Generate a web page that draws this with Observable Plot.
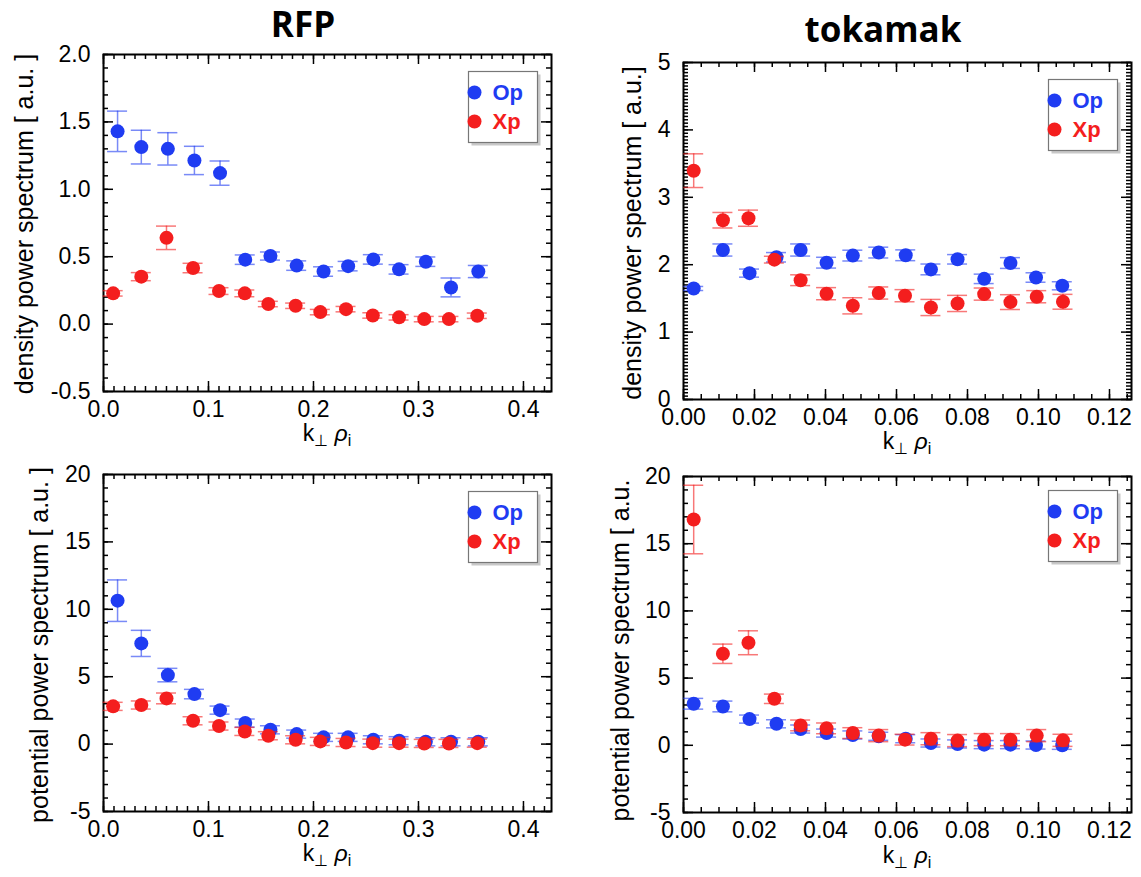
<!DOCTYPE html>
<html><head><meta charset="utf-8">
<script src="https://cdn.jsdelivr.net/npm/d3@7"></script>
<script src="https://cdn.jsdelivr.net/npm/@observablehq/plot@0.6"></script>
<style>
body{margin:0;background:#fff;}
#wrap{position:relative;width:1141px;height:877px;overflow:hidden;background:#fff;}
#wrap svg{position:absolute;}
</style></head><body><div id="wrap"></div>
<script>
const opBlue = "#1f3cf2", xpRed = "#f41e1e";
const seriesNames = ["Op", "Xp"];
const titles = ["RFP", "tokamak"];

// ---- RFP (k_perp rho_i) ----
const rfpOpX = [0.0134,0.036,0.0613,0.0866,0.111,0.135,0.159,0.184,0.2096,0.233,0.257,0.2815,0.307,0.331,0.357];
const rfpXpX = [0.0092,0.036,0.06,0.0853,0.11,0.1346,0.157,0.183,0.2065,0.231,0.2565,0.2815,0.3055,0.329,0.356];
// RFP density
const rfpDenOp  = [1.43,1.313,1.30,1.214,1.12,0.478,0.505,0.434,0.39,0.43,0.48,0.406,0.463,0.272,0.39];
const rfpDenOpE = [0.15,0.125,0.12,0.105,0.09,0.035,0.03,0.035,0.035,0.035,0.035,0.035,0.035,0.07,0.045];
const rfpDenXp  = [0.228,0.352,0.64,0.416,0.245,0.228,0.149,0.136,0.089,0.111,0.064,0.05,0.037,0.037,0.062];
const rfpDenXpE = [0.02,0.03,0.087,0.035,0.025,0.025,0.02,0.02,0.02,0.02,0.02,0.02,0.02,0.02,0.02];
// RFP potential
const rfpPotOp  = [10.64,7.47,5.12,3.71,2.52,1.56,1.06,0.74,0.5,0.5,0.32,0.25,0.17,0.17,0.17];
const rfpPotOpE = [1.54,0.97,0.5,0.35,0.3,0.3,0.3,0.3,0.3,0.3,0.3,0.3,0.3,0.3,0.3];
const rfpPotXp  = [2.8,2.9,3.39,1.73,1.34,0.94,0.62,0.32,0.2,0.12,0.07,0.07,0.05,0.05,0.07];
const rfpPotXpE = [0.3,0.3,0.4,0.3,0.3,0.3,0.3,0.3,0.3,0.3,0.3,0.3,0.3,0.3,0.3];

// ---- tokamak ----
const tokOpX = [0.00287,0.0111,0.0186,0.0262,0.033,0.0403,0.0477,0.055,0.0626,0.0697,0.0772,0.0847,0.0921,0.0993,0.1067];
const tokXpX = [0.00287,0.0111,0.0183,0.0256,0.033,0.0403,0.0477,0.055,0.0624,0.0697,0.0772,0.0847,0.0921,0.0995,0.1069];
// tokamak density
const tokDenOp  = [1.647,2.218,1.875,2.11,2.218,2.03,2.135,2.18,2.14,1.93,2.08,1.79,2.025,1.81,1.687];
const tokDenOpE = [0.03,0.09,0.06,0.07,0.09,0.08,0.08,0.08,0.08,0.08,0.07,0.07,0.08,0.07,0.06];
const tokDenXp  = [3.395,2.66,2.69,2.075,1.77,1.57,1.39,1.58,1.54,1.365,1.425,1.564,1.445,1.525,1.45];
const tokDenXpE = [0.25,0.115,0.12,0.05,0.08,0.09,0.12,0.09,0.09,0.12,0.12,0.09,0.11,0.09,0.11];
// tokamak potential
const tokPotOp  = [3.09,2.89,1.95,1.6,1.21,0.91,0.77,0.67,0.49,0.17,0.1,0.05,0.05,0.02,0.0];
const tokPotOpE = [0.4,0.4,0.3,0.3,0.3,0.3,0.3,0.3,0.3,0.3,0.3,0.3,0.3,0.3,0.3];
const tokPotXp  = [16.8,6.81,7.63,3.46,1.48,1.26,0.91,0.72,0.42,0.49,0.35,0.42,0.42,0.72,0.37];
const tokPotXpE = [2.55,0.72,0.89,0.35,0.4,0.4,0.4,0.45,0.4,0.45,0.45,0.45,0.45,0.45,0.45];

// ---- axes ----
const rfpXTicks = [0, 0.1, 0.2, 0.3, 0.4];
const rfpXLabels = ["0.0", "0.1", "0.2", "0.3", "0.4"];
const tokXTicks = [0, 0.02, 0.04, 0.06, 0.08, 0.10, 0.12];
const tokXLabels = ["0.00", "0.02", "0.04", "0.06", "0.08", "0.10", "0.12"];
const denRfpYTicks = [-0.5, 0, 0.5, 1.0, 1.5, 2.0];
const denRfpYLabels = ["-0.5", "0.0", "0.5", "1.0", "1.5", "2.0"];
const denTokYTicks = [0, 1, 2, 3, 4, 5];
const denTokYLabels = ["0", "1", "2", "3", "4", "5"];
const potYTicks = [-5, 0, 5, 10, 15, 20];
const potYLabels = ["-5", "0", "5", "10", "15", "20"];
const yLabelDen = ["density power spectrum [ a.u. ]", "density power spectrum [ a.u.]"];
const yLabelPot = ["potential power spectrum [ a.u. ]", "potential power spectrum [ a.u."];

const wrap = document.getElementById("wrap");

function minorTicks(domain, step) {
  const n = Math.floor((domain[1] - domain[0]) / step + 1e-6);
  return d3.range(n + 1).map(i => +(domain[0] + i * step).toFixed(6));
}

function panel(c) {
  const W = c.width - c.ml - c.mr, H = c.height - c.mt - c.mb;
  const op = c.opX.map((x, i) => ({x, y: c.opY[i], e: c.opE[i]}));
  const xp = c.xpX.map((x, i) => ({x, y: c.xpY[i], e: c.xpE[i]}));
  const capHalf = 10 * (c.xDomain[1] - c.xDomain[0]) / W;
  const xMinor = minorTicks(c.xDomain, c.xMinorStep);
  const yMinor = minorTicks(c.yDomain, c.yMinorStep);
  const tickStyle = {stroke: "black", strokeWidth: 1.5};
  const errMarks = (data, color) => [
    Plot.ruleX(data, {x: "x", y1: d => d.y - d.e, y2: d => d.y + d.e, stroke: color, strokeOpacity: 0.6, strokeWidth: 1.5}),
    Plot.ruleY(data, {y: d => d.y + d.e, x1: d => d.x - capHalf, x2: d => d.x + capHalf, stroke: color, strokeOpacity: 0.6, strokeWidth: 1.5}),
    Plot.ruleY(data, {y: d => d.y - d.e, x1: d => d.x - capHalf, x2: d => d.x + capHalf, stroke: color, strokeOpacity: 0.6, strokeWidth: 1.5}),
    Plot.dot(data, {x: "x", y: "y", r: 7, fill: color})
  ];
  const lt = c.legendTop;
  const svg = Plot.plot({
    width: c.width, height: c.height,
    marginLeft: c.ml, marginRight: c.mr, marginTop: c.mt, marginBottom: c.mb,
    style: {fontFamily: "'Liberation Sans', Arial, sans-serif", fontSize: "23px", background: "transparent", overflow: "visible"},
    x: {domain: c.xDomain},
    y: {domain: c.yDomain},
    marks: [
      // minor ticks
      Plot.ruleX(xMinor, {x: d => d, insetTop: H - 5, ...tickStyle}),
      Plot.ruleX(xMinor, {x: d => d, insetBottom: H - 5, ...tickStyle}),
      Plot.ruleY(yMinor, {y: d => d, insetRight: W - 5, ...tickStyle}),
      Plot.ruleY(yMinor, {y: d => d, insetLeft: W - 5, ...tickStyle}),
      // major ticks
      Plot.ruleX(c.xTicks, {x: d => d, insetTop: H - 10, ...tickStyle}),
      Plot.ruleX(c.xTicks, {x: d => d, insetBottom: H - 10, ...tickStyle}),
      Plot.ruleY(c.yTicks, {y: d => d, insetRight: W - 10, ...tickStyle}),
      Plot.ruleY(c.yTicks, {y: d => d, insetLeft: W - 10, ...tickStyle}),
      Plot.axisX({ticks: c.xTicks, tickSize: 0, tickPadding: 9, label: null, fontSize: 23,
        tickFormat: d => c.xLabels[c.xTicks.indexOf(d)]}),
      Plot.axisY({ticks: c.yTicks, tickSize: 0, tickPadding: 13, label: null, fontSize: 23,
        tickFormat: d => c.yLabels[c.yTicks.indexOf(d)]}),
      Plot.frame({stroke: "black", strokeWidth: 2}),
      // legend
      Plot.frame({insetLeft: W - 83 + 3, insetRight: 14 - 3, insetTop: lt + 3, insetBottom: H - lt - 71 - 3, fill: "#c8c8c8", stroke: "none"}),
      Plot.frame({insetLeft: W - 83, insetRight: 14, insetTop: lt, insetBottom: H - lt - 71, fill: "white", stroke: "#777", strokeWidth: 1.2}),
      ...errMarks(op, opBlue),
      ...errMarks(xp, xpRed),
      Plot.dot([0], {frameAnchor: "top-right", dx: -77, dy: lt + 21, r: 7, fill: opBlue}),
      Plot.dot([0], {frameAnchor: "top-right", dx: -77, dy: lt + 50, r: 7, fill: xpRed}),
      Plot.text([seriesNames[0]], {frameAnchor: "top-right", dx: -59, dy: lt + 21, text: d => d, textAnchor: "start", lineAnchor: "middle", fontSize: 22, fontWeight: "bold", fill: opBlue}),
      Plot.text([seriesNames[1]], {frameAnchor: "top-right", dx: -59, dy: lt + 50, text: d => d, textAnchor: "start", lineAnchor: "middle", fontSize: 22, fontWeight: "bold", fill: xpRed}),
      Plot.text([c.ylabel], {frameAnchor: "left", text: d => d, rotate: -90, dx: c.ylDx, dy: c.ylDy, fontSize: 25, textAnchor: "middle", lineAnchor: "middle"})
    ]
  });
  svg.style.left = c.left + "px";
  svg.style.top = c.top + "px";
  const s = d3.select(svg);
  // x-axis label k_perp rho_i
  const t = s.append("text")
    .attr("x", c.ml + W / 2).attr("y", c.height - c.mb + c.xlOff)
    .attr("text-anchor", "middle").attr("font-size", 23)
    .attr("font-family", "'Liberation Sans', Arial, sans-serif");
  t.append("tspan").text("k");
  t.append("tspan").attr("dy", 5).attr("font-size", 16).text("\u22A5");
  t.append("tspan").attr("dy", -5).text(" ");
  t.append("tspan").attr("font-style", "italic").text("\u03C1");
  t.append("tspan").attr("dy", 5).attr("font-size", 16).text("i");
  if (c.title) {
    s.append("text").attr("x", c.titleX).attr("y", c.titleY)
      .attr("text-anchor", "middle").attr("font-size", 35).attr("font-weight", 700)
      .attr("font-family", "'Open Sans', sans-serif").text(c.title);
  }
  wrap.appendChild(svg);
}

panel({left: 0, top: 0, width: 570, height: 450, ml: 103, mr: 19, mt: 54, mb: 59,
  xDomain: [0, 0.4267], xTicks: rfpXTicks, xLabels: rfpXLabels, xMinorStep: 0.01,
  yDomain: [-0.5, 2.0], yTicks: denRfpYTicks, yLabels: denRfpYLabels, yMinorStep: 0.1,
  opX: rfpOpX, opY: rfpDenOp, opE: rfpDenOpE, xpX: rfpXpX, xpY: rfpDenXp, xpE: rfpDenXpE,
  ylabel: yLabelDen[0], ylDx: -79, ylDy: 1, legendTop: 17, xlOff: 50, title: titles[0], titleX: 303, titleY: 37});

panel({left: 570, top: 0, width: 571, height: 450, ml: 113, mr: 10, mt: 62, mb: 51,
  xDomain: [0, 0.1262], xTicks: tokXTicks, xLabels: tokXLabels, xMinorStep: 0.005,
  yDomain: [0, 5], yTicks: denTokYTicks, yLabels: denTokYLabels, yMinorStep: 0.05,
  opX: tokOpX, opY: tokDenOp, opE: tokDenOpE, xpX: tokXpX, xpY: tokDenXp, xpE: tokDenXpE,
  ylabel: yLabelDen[1], ylDx: -51, ylDy: 2, legendTop: 17, xlOff: 50, title: titles[1], titleX: 313, titleY: 42});

panel({left: 0, top: 450, width: 570, height: 427, ml: 103, mr: 19, mt: 24, mb: 66,
  xDomain: [0, 0.4267], xTicks: rfpXTicks, xLabels: rfpXLabels, xMinorStep: 0.01,
  yDomain: [-5, 20], yTicks: potYTicks, yLabels: potYLabels, yMinorStep: 1,
  opX: rfpOpX, opY: rfpPotOp, opE: rfpPotOpE, xpX: rfpXpX, xpY: rfpPotXp, xpE: rfpPotXpE,
  ylabel: yLabelPot[0], ylDx: -64, ylDy: 2, legendTop: 17, xlOff: 50});

panel({left: 570, top: 450, width: 571, height: 427, ml: 113, mr: 10, mt: 26, mb: 65,
  xDomain: [0, 0.1262], xTicks: tokXTicks, xLabels: tokXLabels, xMinorStep: 0.005,
  yDomain: [-5, 20], yTicks: potYTicks, yLabels: potYLabels, yMinorStep: 1,
  opX: tokOpX, opY: tokPotOp, opE: tokPotOpE, xpX: tokXpX, xpY: tokPotXp, xpE: tokPotXpE,
  ylabel: yLabelPot[1], ylDx: -63, ylDy: 6, legendTop: 14, xlOff: 51});
</script></body></html>
